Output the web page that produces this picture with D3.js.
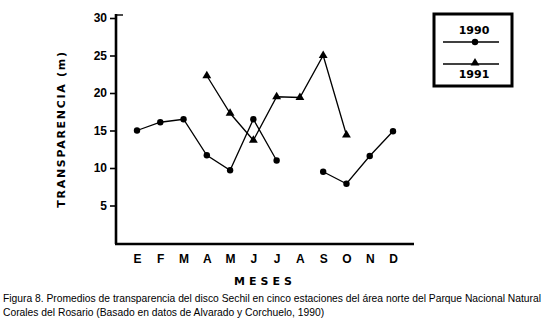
<!DOCTYPE html>
<html>
<head>
<meta charset="utf-8">
<script src="https://cdn.jsdelivr.net/npm/d3@7"></script>
<style>
  body { margin: 0; background: #fff; }
  svg { display: block; font-family: "DejaVu Sans", sans-serif; }
  .tick text { font-weight: bold; font-size: 12px; }
  .caption { font-family: "Liberation Sans", Arial, sans-serif; font-size: 10.3px; }
</style>
</head>
<body>
<div id="chart"></div>
<script>
const width = 546, height = 319;
const margin = ({ top: 18, right: 133, bottom: 76, left: 116 });

const months = ["E","F","M","A","M","J","J","A","S","O","N","D"];
const yTicks = [5, 10, 15, 20, 25, 30];
// null = no sample that month
const v1990 = [15.0, 16.1, 16.5, 11.7, 9.7, 16.5, 11.0, null, 9.5, 7.9, 11.6, 14.9];
const v1991 = [null, null, null, 22.3, 17.3, 13.7, 19.5, 19.4, 25.0, 14.4, null, null];
const legendYears = ["1990", "1991"];

const svg = d3.select("#chart")
    .append("svg")
    .attr("width", width)
    .attr("height", height);

// month index as x
let x = d3.scaleLinear()
    .domain([0, 11])
    .range([137, 393]);

let y = d3.scaleLinear()
    .domain([0, 30])
    .range([243, 18]);

// y axis
svg.append("g")
  .attr("transform", `translate(${margin.left},0)`)
  .call(d3.axisLeft(y).tickValues(yTicks).tickSize(6).tickPadding(3).tickSizeOuter(0))
  .call(g => g.select(".domain").remove())
  .call(g => g.selectAll(".tick line").attr("stroke-width", 1.6))
  .call(g => g.selectAll(".tick text").attr("fill", "#000"));

svg.append("line")
  .attr("x1", margin.left).attr("x2", margin.left)
  .attr("y1", 14).attr("y2", 244)
  .attr("stroke", "#000").attr("stroke-width", 2.6);
svg.append("line")
  .attr("x1", margin.left - 1).attr("x2", margin.left + 7)
  .attr("y1", 15).attr("y2", 15)
  .attr("stroke", "#000").attr("stroke-width", 1.4);

// x axis
svg.append("g")
  .attr("transform", `translate(0,244)`)
  .call(d3.axisBottom(x).tickValues(d3.range(12)).tickFormat(i => months[i]).tickSize(0).tickPadding(10))
  .call(g => g.select(".domain").remove())
  .call(g => g.selectAll(".tick text").attr("fill", "#000"));

svg.append("line")
  .attr("x1", margin.left - 1).attr("x2", 414)
  .attr("y1", 244).attr("y2", 244)
  .attr("stroke", "#000").attr("stroke-width", 2.6);

// axis labels
svg.append("text")
  .attr("x", 265).attr("y", 285)
  .attr("text-anchor", "middle")
  .attr("font-weight", "bold").attr("font-size", 11)
  .attr("letter-spacing", "4px")
  .text("MESES");

svg.append("text")
  .attr("transform", "translate(65,129) rotate(-90)")
  .attr("text-anchor", "middle")
  .attr("font-weight", "bold").attr("font-size", 11)
  .attr("letter-spacing", "1.7px")
  .text("TRANSPARENCIA  (m)");

// series
let line = d3.line()
    .defined(d => d != null)
    .x((d, i) => x(i))
    .y(d => y(d));

svg.append("path")
    .datum(v1990)
    .attr("d", line)
    .attr("fill", "none")
    .attr("stroke", "#000")
    .attr("stroke-width", 1.3);

svg.append("path")
    .datum(v1991)
    .attr("d", line)
    .attr("fill", "none")
    .attr("stroke", "#000")
    .attr("stroke-width", 1.3);

svg.selectAll(".dot")
  .data(v1990.map((v, i) => ({ v, i })).filter(d => d.v != null))
  .join("circle")
    .attr("cx", d => x(d.i))
    .attr("cy", d => y(d.v))
    .attr("r", 3.2)
    .attr("fill", "#000");

const tri = d3.symbol().type(d3.symbolTriangle).size(34);
svg.selectAll(".tri")
  .data(v1991.map((v, i) => ({ v, i })).filter(d => d.v != null))
  .join("path")
    .attr("transform", d => `translate(${x(d.i)},${y(d.v)})`)
    .attr("d", tri)
    .attr("fill", "#000");

// legend
const lg = svg.append("g");
lg.append("rect")
  .attr("x", 434).attr("y", 14)
  .attr("width", 78).attr("height", 72)
  .attr("fill", "none").attr("stroke", "#000").attr("stroke-width", 3);
lg.append("text")
  .attr("x", 474).attr("y", 34)
  .attr("text-anchor", "middle")
  .attr("font-weight", "bold").attr("font-size", 11)
  .text(legendYears[0]);
lg.append("line")
  .attr("x1", 443).attr("x2", 499).attr("y1", 42).attr("y2", 42)
  .attr("stroke", "#000").attr("stroke-width", 1.3);
lg.append("circle").attr("cx", 475).attr("cy", 42).attr("r", 3.2).attr("fill", "#000");
lg.append("line")
  .attr("x1", 443).attr("x2", 499).attr("y1", 64).attr("y2", 64)
  .attr("stroke", "#000").attr("stroke-width", 1.3);
lg.append("path").attr("transform", "translate(475,63)").attr("d", tri).attr("fill", "#000");
lg.append("text")
  .attr("x", 474).attr("y", 78)
  .attr("text-anchor", "middle")
  .attr("font-weight", "bold").attr("font-size", 11)
  .text(legendYears[1]);

// caption
svg.append("text").attr("class", "caption")
  .attr("x", 3).attr("y", 302)
  .text("Figura 8. Promedios de transparencia del disco Sechil en cinco estaciones del área norte del Parque Nacional Natural");
svg.append("text").attr("class", "caption")
  .attr("x", 3).attr("y", 316)
  .text("Corales del Rosario (Basado en datos de Alvarado y Corchuelo, 1990)");
</script>
</body>
</html>
